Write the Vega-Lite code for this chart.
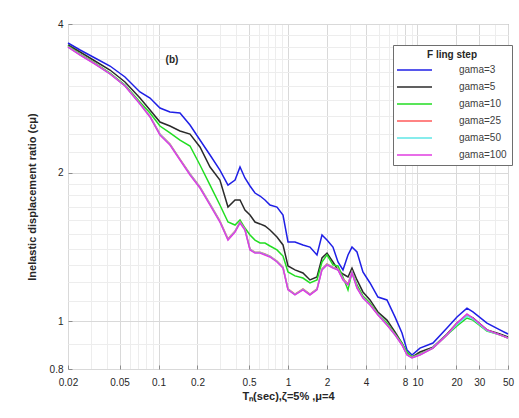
{
  "$schema": "https://vega.github.io/schema/vega-lite/v6.json",
  "width": 440,
  "height": 345,
  "autosize": "none",
  "padding": {"left": 68, "top": 24, "right": 11, "bottom": 49},
  "background": "white",
  "config": {
    "font": "Liberation Sans",
    "view": {"stroke": "#8c8c8c", "strokeWidth": 1},
    "axis": {
      "labelFontSize": 10,
      "labelColor": "#262626",
      "titleFontSize": 11,
      "titleFontWeight": "bold",
      "titleColor": "#262626",
      "domain": false
    }
  },
  "datasets": {
    "curves": [
      {"T": 0.02, "gama=3": 3.661, "gama=5": 3.627, "gama=10": 3.610, "gama=25": 3.600, "gama=50": 3.597, "gama=100": 3.593},
      {"T": 0.0248, "gama=3": 3.543, "gama=5": 3.510, "gama=10": 3.477, "gama=25": 3.468, "gama=50": 3.464, "gama=100": 3.461},
      {"T": 0.0323, "gama=3": 3.413, "gama=5": 3.366, "gama=10": 3.334, "gama=25": 3.325, "gama=50": 3.322, "gama=100": 3.319},
      {"T": 0.0422, "gama=3": 3.288, "gama=5": 3.227, "gama=10": 3.182, "gama=25": 3.174, "gama=50": 3.171, "gama=100": 3.168},
      {"T": 0.0551, "gama=3": 3.124, "gama=5": 3.052, "gama=10": 3.009, "gama=25": 3.000, "gama=50": 2.998, "gama=100": 2.995},
      {"T": 0.0719, "gama=3": 2.913, "gama=5": 2.832, "gama=10": 2.780, "gama=25": 2.762, "gama=50": 2.758, "gama=100": 2.754},
      {"T": 0.086, "gama=3": 2.832, "gama=5": 2.678, "gama=10": 2.641, "gama=25": 2.600, "gama=50": 2.596, "gama=100": 2.592},
      {"T": 0.1026, "gama=3": 2.703, "gama=5": 2.532, "gama=10": 2.485, "gama=25": 2.395, "gama=50": 2.390, "gama=100": 2.383},
      {"T": 0.1226, "gama=3": 2.653, "gama=5": 2.485, "gama=10": 2.406, "gama=25": 2.285, "gama=50": 2.280, "gama=100": 2.275},
      {"T": 0.1465, "gama=3": 2.641, "gama=5": 2.428, "gama=10": 2.328, "gama=25": 2.130, "gama=50": 2.125, "gama=100": 2.121},
      {"T": 0.1751, "gama=3": 2.497, "gama=5": 2.394, "gama=10": 2.264, "gama=25": 1.990, "gama=50": 1.985, "gama=100": 1.978},
      {"T": 0.209, "gama=3": 2.328, "gama=5": 2.254, "gama=10": 2.072, "gama=25": 1.870, "gama=50": 1.866, "gama=100": 1.861},
      {"T": 0.25, "gama=3": 2.171, "gama=5": 2.053, "gama=10": 1.887, "gama=25": 1.728, "gama=50": 1.724, "gama=100": 1.719},
      {"T": 0.298, "gama=3": 2.024, "gama=5": 1.932, "gama=10": 1.719, "gama=25": 1.596, "gama=50": 1.592, "gama=100": 1.588},
      {"T": 0.344, "gama=3": 1.887, "gama=5": 1.703, "gama=10": 1.588, "gama=25": 1.468, "gama=50": 1.464, "gama=100": 1.460},
      {"T": 0.39, "gama=3": 1.932, "gama=5": 1.760, "gama=10": 1.566, "gama=25": 1.522, "gama=50": 1.520, "gama=100": 1.516},
      {"T": 0.426, "gama=3": 2.053, "gama=5": 1.760, "gama=10": 1.603, "gama=25": 1.588, "gama=50": 1.585, "gama=100": 1.581},
      {"T": 0.465, "gama=3": 1.950, "gama=5": 1.680, "gama=10": 1.544, "gama=25": 1.536, "gama=50": 1.533, "gama=100": 1.530},
      {"T": 0.509, "gama=3": 1.879, "gama=5": 1.641, "gama=10": 1.495, "gama=25": 1.400, "gama=50": 1.397, "gama=100": 1.394},
      {"T": 0.556, "gama=3": 1.818, "gama=5": 1.588, "gama=10": 1.460, "gama=25": 1.380, "gama=50": 1.377, "gama=100": 1.374},
      {"T": 0.608, "gama=3": 1.793, "gama=5": 1.574, "gama=10": 1.440, "gama=25": 1.380, "gama=50": 1.377, "gama=100": 1.374},
      {"T": 0.664, "gama=3": 1.760, "gama=5": 1.559, "gama=10": 1.440, "gama=25": 1.368, "gama=50": 1.365, "gama=100": 1.362},
      {"T": 0.726, "gama=3": 1.719, "gama=5": 1.530, "gama=10": 1.420, "gama=25": 1.355, "gama=50": 1.352, "gama=100": 1.349},
      {"T": 0.822, "gama=3": 1.703, "gama=5": 1.481, "gama=10": 1.394, "gama=25": 1.324, "gama=50": 1.321, "gama=100": 1.318},
      {"T": 0.915, "gama=3": 1.641, "gama=5": 1.427, "gama=10": 1.355, "gama=25": 1.287, "gama=50": 1.284, "gama=100": 1.281},
      {"T": 1.0, "gama=3": 1.447, "gama=5": 1.294, "gama=10": 1.258, "gama=25": 1.162, "gama=50": 1.160, "gama=100": 1.157},
      {"T": 1.132, "gama=3": 1.447, "gama=5": 1.270, "gama=10": 1.235, "gama=25": 1.135, "gama=50": 1.132, "gama=100": 1.130},
      {"T": 1.305, "gama=3": 1.427, "gama=5": 1.252, "gama=10": 1.223, "gama=25": 1.162, "gama=50": 1.160, "gama=100": 1.157},
      {"T": 1.478, "gama=3": 1.413, "gama=5": 1.212, "gama=10": 1.195, "gama=25": 1.135, "gama=50": 1.132, "gama=100": 1.130},
      {"T": 1.674, "gama=3": 1.362, "gama=5": 1.229, "gama=10": 1.212, "gama=25": 1.162, "gama=50": 1.160, "gama=100": 1.157},
      {"T": 1.83, "gama=3": 1.495, "gama=5": 1.343, "gama=10": 1.318, "gama=25": 1.276, "gama=50": 1.273, "gama=100": 1.270},
      {"T": 2.0, "gama=3": 1.460, "gama=5": 1.374, "gama=10": 1.362, "gama=25": 1.306, "gama=50": 1.303, "gama=100": 1.300},
      {"T": 2.224, "gama=3": 1.413, "gama=5": 1.318, "gama=10": 1.300, "gama=25": 1.287, "gama=50": 1.284, "gama=100": 1.281},
      {"T": 2.432, "gama=3": 1.318, "gama=5": 1.270, "gama=10": 1.294, "gama=25": 1.275, "gama=50": 1.272, "gama=100": 1.270},
      {"T": 2.658, "gama=3": 1.270, "gama=5": 1.246, "gama=10": 1.229, "gama=25": 1.218, "gama=50": 1.215, "gama=100": 1.212},
      {"T": 2.906, "gama=3": 1.362, "gama=5": 1.229, "gama=10": 1.157, "gama=25": 1.190, "gama=50": 1.187, "gama=100": 1.184},
      {"T": 3.12, "gama=3": 1.413, "gama=5": 1.281, "gama=10": 1.258, "gama=25": 1.258, "gama=50": 1.255, "gama=100": 1.252},
      {"T": 3.41, "gama=3": 1.381, "gama=5": 1.212, "gama=10": 1.184, "gama=25": 1.172, "gama=50": 1.170, "gama=100": 1.167},
      {"T": 3.79, "gama=3": 1.258, "gama=5": 1.146, "gama=10": 1.125, "gama=25": 1.118, "gama=50": 1.116, "gama=100": 1.114},
      {"T": 4.30, "gama=3": 1.195, "gama=5": 1.104, "gama=10": 1.088, "gama=25": 1.082, "gama=50": 1.080, "gama=100": 1.078},
      {"T": 4.95, "gama=3": 1.119, "gama=5": 1.044, "gama=10": 1.034, "gama=25": 1.032, "gama=50": 1.031, "gama=100": 1.029},
      {"T": 5.81, "gama=3": 1.104, "gama=5": 1.005, "gama=10": 0.991, "gama=25": 0.985, "gama=50": 0.984, "gama=100": 0.982},
      {"T": 6.70, "gama=3": 1.020, "gama=5": 0.951, "gama=10": 0.942, "gama=25": 0.940, "gama=50": 0.939, "gama=100": 0.938},
      {"T": 7.59, "gama=3": 0.946, "gama=5": 0.903, "gama=10": 0.903, "gama=25": 0.897, "gama=50": 0.896, "gama=100": 0.895},
      {"T": 8.30, "gama=3": 0.874, "gama=5": 0.858, "gama=10": 0.866, "gama=25": 0.856, "gama=50": 0.855, "gama=100": 0.854},
      {"T": 9.07, "gama=3": 0.854, "gama=5": 0.846, "gama=10": 0.846, "gama=25": 0.844, "gama=50": 0.843, "gama=100": 0.842},
      {"T": 10.45, "gama=3": 0.882, "gama=5": 0.866, "gama=10": 0.858, "gama=25": 0.856, "gama=50": 0.855, "gama=100": 0.854},
      {"T": 13.17, "gama=3": 0.903, "gama=5": 0.886, "gama=10": 0.882, "gama=25": 0.883, "gama=50": 0.883, "gama=100": 0.882},
      {"T": 16.89, "gama=3": 0.969, "gama=5": 0.942, "gama=10": 0.938, "gama=25": 0.940, "gama=50": 0.939, "gama=100": 0.938},
      {"T": 20.18, "gama=3": 1.020, "gama=5": 0.991, "gama=10": 0.978, "gama=25": 0.990, "gama=50": 0.985, "gama=100": 0.991},
      {"T": 24.1, "gama=3": 1.063, "gama=5": 1.029, "gama=10": 1.015, "gama=25": 1.030, "gama=50": 1.025, "gama=100": 1.034},
      {"T": 26.8, "gama=3": 1.044, "gama=5": 1.015, "gama=10": 1.005, "gama=25": 1.012, "gama=50": 1.010, "gama=100": 1.015},
      {"T": 34.4, "gama=3": 0.991, "gama=5": 0.960, "gama=10": 0.955, "gama=25": 0.958, "gama=50": 0.957, "gama=100": 0.960},
      {"T": 43.3, "gama=3": 0.960, "gama=5": 0.942, "gama=10": 0.938, "gama=25": 0.938, "gama=50": 0.938, "gama=100": 0.938},
      {"T": 50, "gama=3": 0.942, "gama=5": 0.929, "gama=10": 0.924, "gama=25": 0.925, "gama=50": 0.925, "gama=100": 0.924}
    ]
  },
  "layer": [
    {
      "data": {"name": "curves"},
      "mark": {"type": "point", "opacity": 0},
      "encoding": {
        "x": {
          "field": "T", "type": "quantitative",
          "scale": {"type": "log", "domain": [0.02, 50], "nice": false},
          "axis": {
            "orient": "top", "title": null, "labels": false, "ticks": false,
            "values": [0.03, 0.04, 0.06, 0.07, 0.08, 0.09, 0.3, 0.4, 0.6, 0.7, 0.8, 0.9, 3, 5, 6, 7, 9, 40],
            "grid": true, "gridColor": "#ededed", "gridWidth": 1
          }
        },
        "y": {
          "field": "gama=3", "type": "quantitative",
          "scale": {"type": "log", "domain": [0.8, 4], "nice": false, "zero": false},
          "axis": {
            "orient": "right", "title": null, "labels": false, "ticks": false,
            "values": [0.9, 1.1, 1.2, 1.3, 1.4, 1.5, 1.6, 1.7, 1.8, 1.9, 2.2, 2.4, 2.6, 2.8, 3, 3.2, 3.4, 3.6, 3.8],
            "grid": true, "gridColor": "#ededed", "gridWidth": 1
          }
        }
      }
    },
    {
      "data": {"name": "curves"},
      "transform": [
        {"fold": ["gama=3", "gama=5", "gama=10", "gama=25", "gama=50", "gama=100"], "as": ["series", "ratio"]}
      ],
      "mark": {"type": "line", "strokeWidth": 1.5, "interpolate": "linear"},
      "encoding": {
        "x": {
          "field": "T", "type": "quantitative",
          "scale": {"type": "log", "domain": [0.02, 50], "nice": false},
          "axis": {
            "orient": "bottom",
            "title": "Tₙ(sec),ζ=5% ,μ=4",
            "values": [0.02, 0.05, 0.1, 0.2, 0.5, 1, 2, 4, 8, 10, 20, 30, 50],
            "format": "~g",
            "grid": true, "gridColor": "#d9d9d9",
            "ticks": true, "tickSize": -4, "tickColor": "#8c8c8c",
            "labelPadding": 12, "titlePadding": 3, "labelFlush": false
          }
        },
        "y": {
          "field": "ratio", "type": "quantitative",
          "scale": {"type": "log", "domain": [0.8, 4], "nice": false, "zero": false},
          "axis": {
            "orient": "left",
            "title": "Inelastic displacement ratio (cμ)",
            "values": [0.8, 1, 2, 4],
            "format": "~g",
            "grid": true, "gridColor": "#d9d9d9",
            "ticks": true, "tickSize": -4, "tickColor": "#8c8c8c",
            "labelPadding": 9, "titlePadding": 12, "labelFlush": false
          }
        },
        "color": {
          "field": "series", "type": "nominal",
          "sort": ["gama=3", "gama=5", "gama=10", "gama=25", "gama=50", "gama=100"],
          "scale": {
            "domain": ["gama=3", "gama=5", "gama=10", "gama=25", "gama=50", "gama=100"],
            "range": ["#1f1fe6", "#2b2b2b", "#22dd22", "#ff5a5a", "#5fe6e6", "#e03ce0"]
          },
          "legend": {
            "title": "F ling step",
            "orient": "none",
            "legendX": 325,
            "legendY": 21,
            "titleFontSize": 10,
            "titleFontWeight": "bold",
            "titleColor": "#262626",
            "titleAnchor": "middle",
            "titlePadding": 4,
            "labelFontSize": 10,
            "labelColor": "#404040",
            "symbolType": "M-6,0H1",
            "symbolSize": 100,
            "symbolOffset": 23,
            "labelOffset": 26,
            "symbolStrokeWidth": 1.5,
            "rowPadding": 6,
            "padding": 5,
            "strokeColor": "#6e6e6e",
            "fillColor": "white"
          }
        }
      }
    },
    {
      "data": {"values": [{}]},
      "mark": {"type": "text", "fontSize": 10, "fontWeight": "bold", "color": "#262626"},
      "encoding": {
        "x": {"datum": 0.127, "type": "quantitative", "scale": {"type": "log", "domain": [0.02, 50], "nice": false}, "axis": null},
        "y": {"datum": 3.38, "type": "quantitative", "scale": {"type": "log", "domain": [0.8, 4], "nice": false, "zero": false}, "axis": null},
        "text": {"value": "(b)"}
      }
    }
  ],
  "resolve": {"axis": {"x": "independent", "y": "independent"}}
}
